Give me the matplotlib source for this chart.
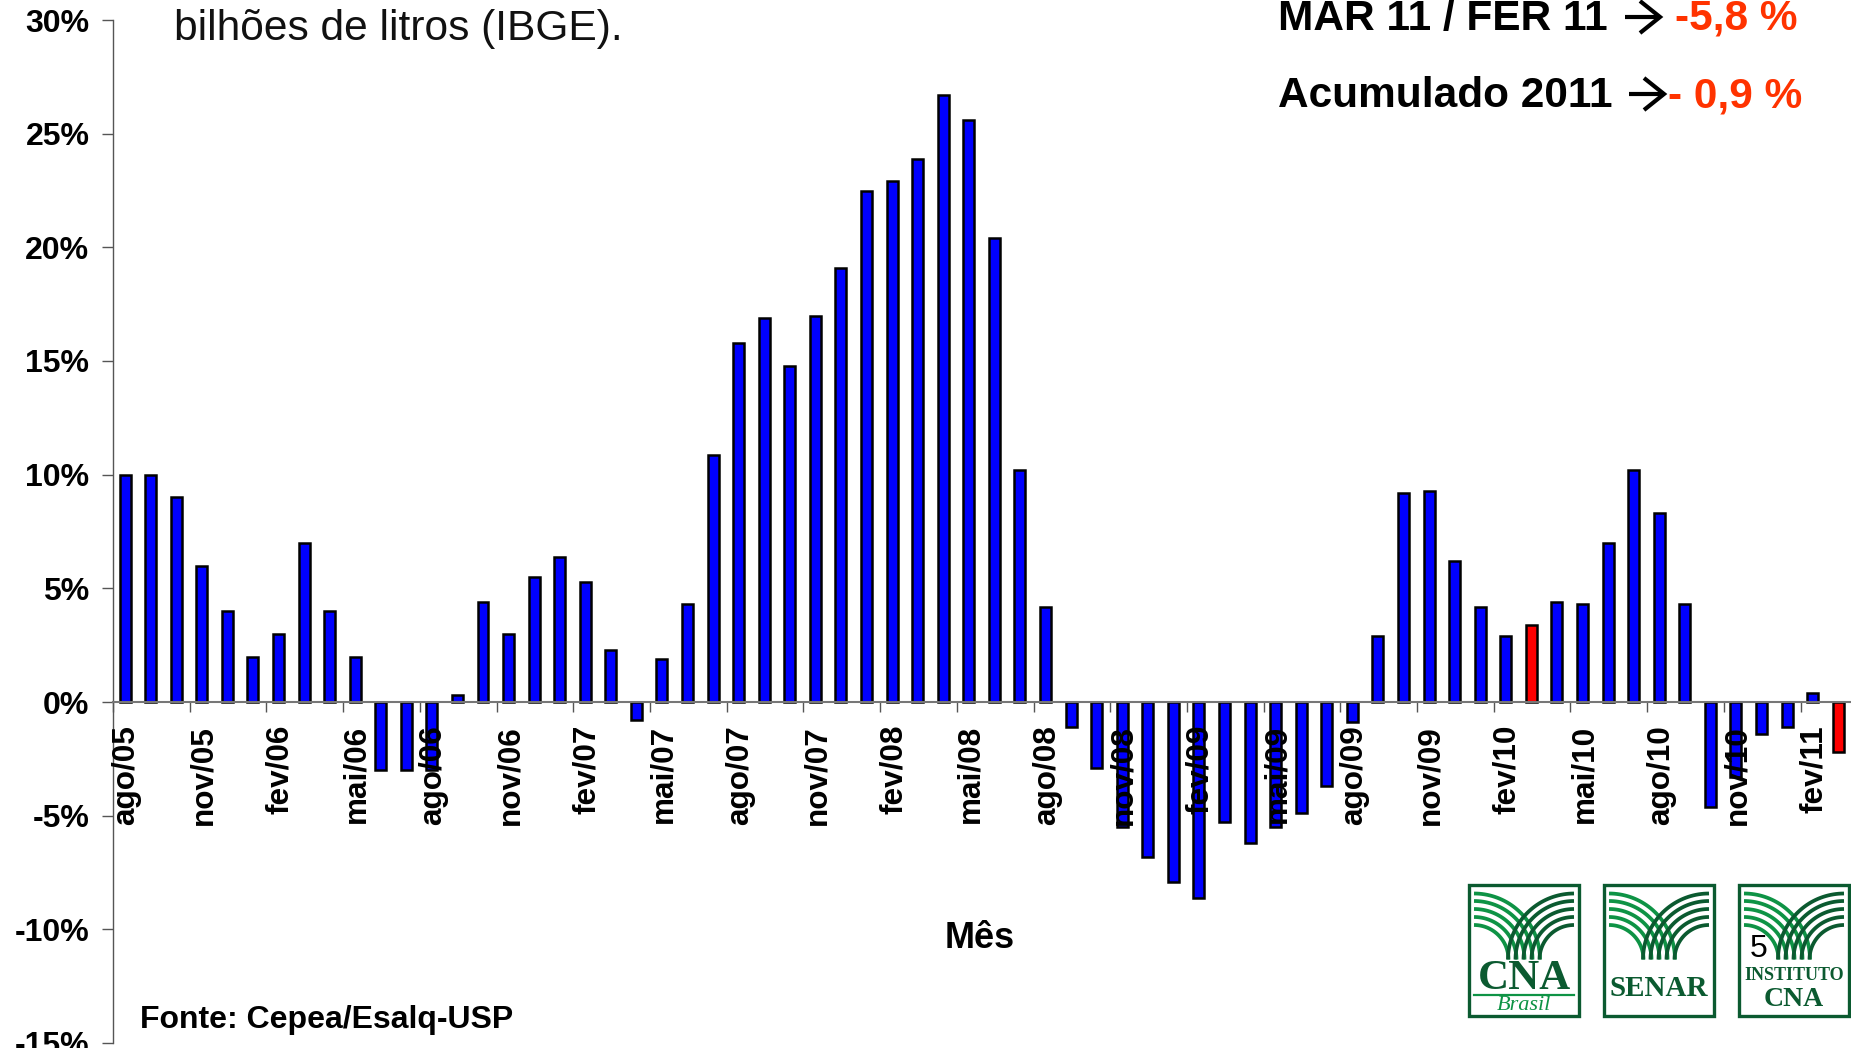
import matplotlib
matplotlib.use("Agg")
import matplotlib.pyplot as plt
import numpy as np
from matplotlib.patches import Rectangle
from matplotlib.transforms import ScaledTranslation

plt.rcParams['font.family'] = ['Liberation Sans', 'DejaVu Sans']

W, H = 1851, 1048

months = ["ago", "set", "out", "nov", "dez", "jan", "fev", "mar", "abr", "mai", "jun", "jul"]
first_year = 2005
variation = [10, 10, 9, 6, 4, 2, 3, 7, 4, 2, -3, -3,
             -3, 0.3, 4.4, 3, 5.5, 6.4, 5.3, 2.3, -0.8, 1.9, 4.3, 10.85,
             15.8, 16.9, 14.8, 17.0, 19.1, 22.5, 22.9, 23.9, 26.7, 25.6, 20.4, 10.2,
             4.2, -1.1, -2.9, -5.5, -6.8, -7.9, -8.6, -5.3, -6.2, -5.5, -4.9, -3.7,
             -0.9, 2.9, 9.2, 9.3, 6.2, 4.2, 2.9, 3.4, 4.4, 4.3, 7, 10.2,
             8.3, 4.3, -4.6, -3.3, -1.4, -1.1, 0.4, -2.2]
red_bars = [55, 67]   # mar/10 and mar/11
y_ticks = [-15, -10, -5, 0, 5, 10, 15, 20, 25, 30]

DARK = "#0b5a30"
LIGHT = "#0e9345"
ORANGE = "#ff3300"

n = len(variation)
x = np.arange(n)
labels = []
for i in range(n):
    # the year turns over at jan, which is the 6th month of the list
    yr = first_year + (i + 7) // 12
    labels.append("%s/%02d" % (months[i % 12], yr % 100))

fig = plt.figure(figsize=(W / 100, H / 100), dpi=100)
ax = fig.add_axes([113 / W, 1 - 1043 / H, (W - 113) / W, (1043 - 20) / H])

colors = ["#ff0000" if i in red_bars else "#0000ff" for i in x]
ax.bar(x, variation, width=0.43, color=colors, edgecolor="black", linewidth=1.8, zorder=2)
ax.set_axisbelow(False)   # the month labels are printed over the bars

ax.set_xlim(-0.47, n - 0.5)
ax.set_ylim(-15, 30)
for s in ["top", "right"]:
    ax.spines[s].set_visible(False)
ax.spines["bottom"].set_position(("data", 0))
ax.spines["bottom"].set_color("#777777")
ax.spines["bottom"].set_linewidth(1.5)
ax.spines["bottom"].set_zorder(4)
ax.spines["left"].set_color("#555555")
ax.spines["left"].set_linewidth(1)

ax.set_yticks(y_ticks)
ax.set_yticklabels(["%d%%" % v for v in y_ticks], fontsize=23, fontweight="bold")
ax.tick_params(axis="y", length=8, width=1, color="#555555", pad=9)

ax.set_xticks(x[::3] - 0.47)
ax.set_xticklabels([])
ax.tick_params(axis="x", which="major", length=7.5, width=1, color="#555555")
ax.set_xticks(x[::3], minor=True)
ax.set_xticklabels(labels[::3], minor=True, rotation=90, fontsize=22.7, fontweight="bold", va="top", ha="center")
ax.tick_params(axis="x", which="minor", length=0, pad=16.5)
shift = ScaledTranslation(1.5 / 100, 0, fig.dpi_scale_trans)
for t in ax.get_xticklabels(minor=True):
    t.set_transform(t.get_transform() + shift)

# overlay in pixels for the slide texts and the logos
ov = fig.add_axes([0, 0, 1, 1], facecolor="none")
ov.set_xlim(0, W)
ov.set_ylim(H, 0)
ov.axis("off")

ov.text(174, 29, "bilhões de litros (IBGE).", fontsize=30.6, va="center", ha="left", color="#111111")
ov.text(980, 938, "Mês", fontsize=26, fontweight="bold", ha="center", va="center")
ov.text(140, 1020, "Fonte: Cepea/Esalq-USP", fontsize=23, fontweight="bold", ha="left", va="center")

ov.text(1278, 19, "MAR 11 / FER 11", fontsize=30.5, fontweight="bold", ha="left", va="center")
ov.text(1675, 19, "-5,8 %", fontsize=30.5, fontweight="bold", color=ORANGE, ha="left", va="center")
ov.text(1278, 96, "Acumulado 2011", fontsize=30.5, fontweight="bold", ha="left", va="center")
ov.text(1668, 96, "- 0,9 %", fontsize=30.5, fontweight="bold", color=ORANGE, ha="left", va="center")


def arrow(x0, y0):
    ov.plot([x0, x0 + 35], [y0, y0], color="black", lw=3, solid_capstyle="butt")
    ov.plot([x0 + 15, x0 + 35, x0 + 15], [y0 - 16, y0, y0 + 16], color="black", lw=3,
            solid_joinstyle="miter", solid_capstyle="butt")


arrow(1625, 17)
arrow(1629, 94)


def logo(x0):
    y0 = 885
    ov.add_patch(Rectangle((x0, y0), 110, 131, fill=False, ec=DARK, lw=2.4))
    radii = [66, 58.5, 50.5, 42.5, 34.5]
    t = np.linspace(0, np.pi / 2, 40)
    for r in radii:
        ov.plot(x0 + 5 + r * np.sin(t), y0 + 74.5 - r * np.cos(t), color=LIGHT, lw=2.7, solid_capstyle="butt")
    for r in radii:
        ov.plot(x0 + 105 - r * np.sin(t), y0 + 74.5 - r * np.cos(t), color=DARK, lw=2.7, solid_capstyle="butt")


logo(1469)
logo(1604)
logo(1739)

serif = ["Liberation Serif", "DejaVu Serif"]
ov.text(1524, 979, "CNA", family=serif, fontsize=31, fontweight="bold", color=DARK, ha="center", va="center")
ov.plot([1474, 1574], [995, 995], color=LIGHT, lw=1.6)
ov.text(1524, 1005, "Brasil", family=serif, fontsize=16, style="italic", color=LIGHT, ha="center", va="center")
ov.text(1659, 988, "SENAR", family=serif, fontsize=21, fontweight="bold", color=DARK, ha="center", va="center")
ov.text(1794, 976, "INSTITUTO", family=serif, fontsize=13, fontweight="bold", color=DARK, ha="center", va="center")
ov.text(1794, 1000, "CNA", family=serif, fontsize=20, fontweight="bold", color=DARK, ha="center", va="center")

ov.text(1759, 949, "5", fontsize=23, color="black", ha="center", va="center")

fig.savefig("out.png", dpi=100, facecolor="white")
